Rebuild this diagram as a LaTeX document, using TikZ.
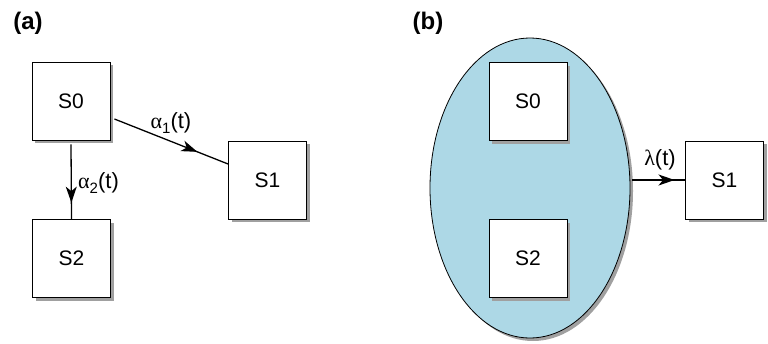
\documentclass[tikz,border=0pt]{standalone}
\usepackage{fontspec}
\setmainfont{Liberation Sans}
\newfontfamily\grk{Liberation Serif}
\usetikzlibrary{shapes.geometric,shadows,arrows.meta,decorations.markings,calc}
\definecolor{ellblue}{RGB}{173,216,230}
\definecolor{shadowgray}{RGB}{160,160,160}
\newcommand{\subnum}[1]{\raisebox{-0.2em}{\fontsize{15}{15}\selectfont #1}}
\tikzset{
  statebox/.style={draw=black, line width=0.9pt, fill=white,
    minimum width=78pt, minimum height=78pt, inner sep=0pt,
    font=\fontsize{21}{21}\selectfont,
    drop shadow={shadow xshift=3pt, shadow yshift=-3pt, fill=shadowgray, opacity=1}},
  panel/.style={font=\bfseries\fontsize{24}{24}\selectfont, inner sep=0pt},
  translabel/.style={font=\fontsize{22}{22}\selectfont, inner sep=0pt},
  conn/.style={line width=1.3pt},
  midarrow/.style={postaction={decorate}, decoration={markings,
    mark=at position #1 with {\arrow{Stealth[length=16pt,width=11pt,inset=4.5pt]}}}}
}
\begin{document}
\begin{tikzpicture}[x=1pt,y=-1pt]
\useasboundingbox (0,0) rectangle (768,343);
% panel (a)
\node[panel] (la) at (28,23) {(a)};
\node[statebox] (aS0) at (71,101) {S0};
\node[statebox] (aS1) at (267.5,180) {S1};
\node[statebox] (aS2) at (71.5,258.5) {S2};
\draw[conn, midarrow=0.73] ([xshift=4pt,yshift=-18pt]aS0.east) -- ([yshift=16pt]aS1.west);
\draw[conn, midarrow=0.78] ([yshift=-4pt]aS0.south) -- (aS2.north);
\node[translabel] (a1) at (171,123) {{\grk α}\subnum{1}(t)};
\node[translabel, anchor=west] (a2) at (78,183) {{\grk α}\subnum{2}(t)};
% panel (b)
\node[panel] (lb) at (428,23) {(b)};
\node[ellipse, draw=black, line width=0.8pt, fill=ellblue,
      minimum width=200pt, minimum height=300pt, inner sep=0pt,
      drop shadow={shadow xshift=3pt, shadow yshift=-3pt, fill=shadowgray, opacity=1}] (ell) at (530,188) {};
\node[statebox] (bS0) at (528,101.5) {S0};
\node[statebox] (bS2) at (528,258.5) {S2};
\node[statebox] (bS1) at (724.5,180) {S1};
\draw[conn, midarrow=0.8] ($(ell.east|-bS1.west)+(2,0)$) -- (bS1.west);
\node[translabel] (lam) at (660,160) {{\grk λ}(t)};
\end{tikzpicture}
\end{document}
